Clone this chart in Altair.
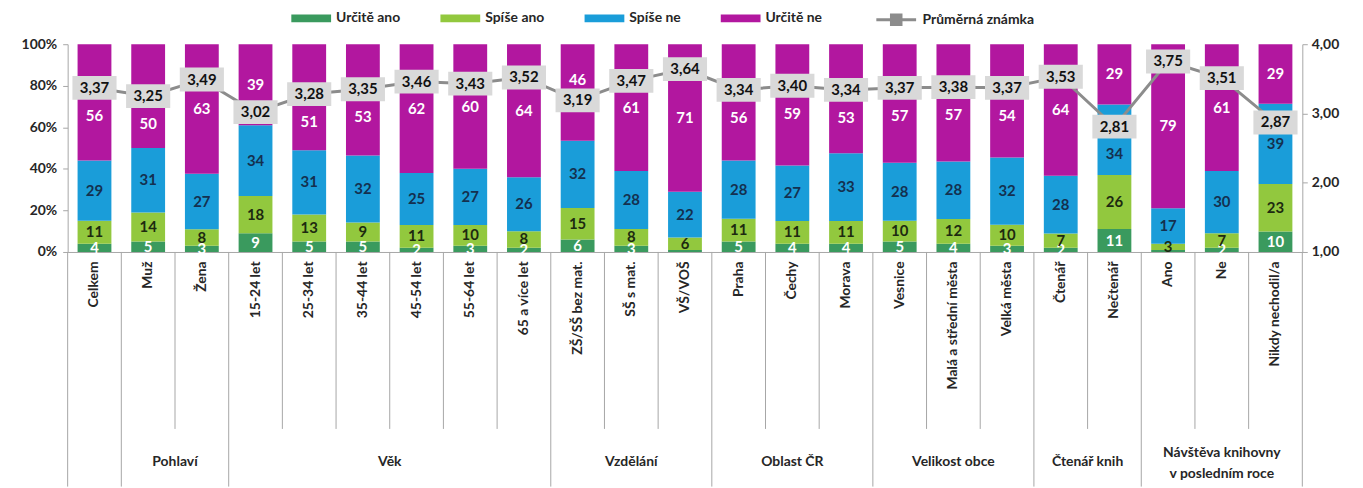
import altair as alt
import pandas as pd

categories = ["Celkem", "Muž", "Žena", "15-24 let", "25-34 let", "35-44 let", "45-54 let",
              "55-64 let", "65 a více let", "ZŠ/SŠ bez mat.", "SŠ s mat.", "VŠ/VOŠ", "Praha",
              "Čechy", "Morava", "Vesnice", "Malá a střední města", "Velká města", "Čtenář",
              "Nečtenář", "Ano", "Ne", "Nikdy nechodil/a"]
urcite_ano = [4, 5, 3, 9, 5, 5, 2, 3, 2, 6, 3, 1, 5, 4, 4, 5, 4, 3, 2, 11, 1, 2, 10]
spise_ano = [11, 14, 8, 18, 13, 9, 11, 10, 8, 15, 8, 6, 11, 11, 11, 10, 12, 10, 7, 26, 3, 7, 23]
spise_ne = [29, 31, 27, 34, 31, 32, 25, 27, 26, 32, 28, 22, 28, 27, 33, 28, 28, 32, 28, 34, 17, 30, 39]
urcite_ne = [56, 50, 63, 39, 51, 53, 62, 60, 64, 46, 61, 71, 56, 59, 53, 57, 57, 54, 64, 29, 79, 61, 29]
prumer = [3.37, 3.25, 3.49, 3.02, 3.28, 3.35, 3.46, 3.43, 3.52, 3.19, 3.47, 3.64, 3.34, 3.40,
          3.34, 3.37, 3.38, 3.37, 3.53, 2.81, 3.75, 3.51, 2.87]

series_names = ["Určitě ano", "Spíše ano", "Spíše ne", "Určitě ne"]
series_colors = ["#3a9a5e", "#92c83e", "#1a9dd9", "#b2179f"]
label_colors = ["#ffffff", "#1d2a10", "#14304f", "#ffffff"]
avg_name = "Průměrná známka"

group_names = ["", "Pohlaví", "Věk", "Vzdělání", "Oblast ČR", "Velikost obce", "Čtenář knih",
               "Návštěva knihovny\nv posledním roce"]
group_sizes = [1, 2, 6, 3, 3, 3, 2, 3]

FONT = "Lato"
H = 209
W = 1242

rows = []
for i, c in enumerate(categories):
    for k, vals in enumerate([urcite_ano, spise_ano, spise_ne, urcite_ne]):
        rows.append(dict(cat=c, series=series_names[k], ord=k, value=vals[i], avg=prumer[i]))
df = pd.DataFrame(rows)
avg_df = pd.DataFrame(dict(cat=categories, avg=prumer, name=avg_name))

starts = []
s = 0
for n in group_sizes:
    starts.append(s)
    s += n
bound_df = pd.DataFrame(dict(cat=categories,
                             kind=["full" if i in starts else "short" for i in range(len(categories))]))
end_df = pd.DataFrame(dict(cat=[categories[-1]]))

grp_rows = []
for name, st, n in zip(group_names, starts, group_sizes):
    if not name:
        continue
    grp_rows.append(dict(cat=categories[st + n // 2], label=name, odd=(n % 2 == 1),
                         multi=("\n" in name)))
grp_df = pd.DataFrame(grp_rows)

x_scale = alt.Scale(domain=categories, paddingInner=0, paddingOuter=0)
x_axis = alt.Axis(labelAngle=-90, labelFont=FONT, labelFontSize=14, labelFontWeight="bold",
                  labelColor="#262626", labelPadding=9, ticks=False, domainColor="#a6a6a6",
                  labelLimit=300, grid=False)


def X(**kw):
    return alt.X("cat:N", sort=categories, scale=x_scale, axis=x_axis, title=None, **kw)


y_scale = alt.Scale(domain=[0, 1])
y_axis_left = alt.Axis(values=[0, 0.2, 0.4, 0.6, 0.8, 1], format="%", labelFont=FONT,
                       labelFontSize=14, labelFontWeight="bold", labelColor="#262626",
                       tickSize=5, tickColor="#a6a6a6", domainColor="#a6a6a6", grid=False,
                       labelPadding=6, orient="left")
y_axis_right = alt.Axis(values=[1, 2, 3, 4], labelExpr="replace(format(datum.value, '.2f'), '.', ',')",
                        labelFont=FONT, labelFontSize=14, labelFontWeight="bold",
                        labelColor="#262626", tickSize=5, tickColor="#a6a6a6",
                        domainColor="#a6a6a6", grid=False, labelPadding=4, orient="right")

bars = alt.Chart(df).mark_bar(width=alt.RelativeBandSize(0.63)).encode(
    x=X(),
    y=alt.Y("value:Q", stack="normalize", scale=y_scale, axis=y_axis_left, title=None),
    color=alt.Color("series:N", scale=alt.Scale(domain=series_names, range=series_colors), title=None,
                    legend=alt.Legend(orient="none", legendX=237, legendY=-34, direction="horizontal",
                                      symbolType="M-2.5,-0.5L2.5,-0.5L2.5,0.5L-2.5,0.5Z",
                                      symbolSize=256, symbolStrokeWidth=0, labelFont=FONT,
                                      labelFontSize=14, labelFontWeight="bold", labelColor="#262626",
                                      labelOffset=17, columnPadding=40)),
    order=alt.Order("ord:Q"),
)

labels = alt.Chart(df).transform_stack(
    stack="value", groupby=["cat"], sort=[alt.SortField("ord")], as_=["v0", "v1"], offset="normalize"
).transform_calculate(
    mid="(datum.v0 + datum.v1) / 2", box="(datum.avg - 1) / 3"
).transform_calculate(
    ypos="datum.ord == 3 && abs(datum.mid - datum.box) < 0.1 ? "
         "((1 - datum.box) > (datum.box - datum.v0) + 0.01 ? datum.box + 0.10 : datum.box - 0.135) "
         ": (datum.ord == 2 && abs(datum.mid - datum.box) < 0.08 ? datum.box - 0.13 : datum.mid)"
).transform_filter("datum.value >= 2").mark_text(
    font=FONT, fontSize=15, fontWeight="bold"
).encode(
    x=X(),
    y=alt.Y("ypos:Q", scale=y_scale, axis=y_axis_left, title=None),
    text=alt.Text("value:Q", format="d"),
    fill=alt.Fill("series:N", scale=alt.Scale(domain=series_names, range=label_colors), legend=None),
)

rules_full = alt.Chart(bound_df).transform_filter("datum.kind == 'full'").mark_rule(
    color="#a6a6a6", strokeWidth=1
).encode(x=X(bandPosition=0), y=alt.value(H), y2=alt.value(H + 236))
rules_short = alt.Chart(bound_df).transform_filter("datum.kind == 'short'").mark_rule(
    color="#a6a6a6", strokeWidth=1
).encode(x=X(bandPosition=0), y=alt.value(H), y2=alt.value(H + 178))
rule_end = alt.Chart(end_df).mark_rule(color="#a6a6a6", strokeWidth=1).encode(
    x=X(bandPosition=1), y=alt.value(H), y2=alt.value(H + 236))

grp_text = dict(font=FONT, fontSize=14, fontWeight="bold", color="#262626", lineBreak="\n",
                lineHeight=21, baseline="middle")
grp_odd = alt.Chart(grp_df).transform_filter("datum.odd && !datum.multi").mark_text(**grp_text).encode(
    x=X(bandPosition=0.5), y=alt.value(H + 211), text="label:N")
grp_even = alt.Chart(grp_df).transform_filter("!datum.odd").mark_text(**grp_text).encode(
    x=X(bandPosition=0), y=alt.value(H + 211), text="label:N")
grp_multi = alt.Chart(grp_df).transform_filter("datum.multi").mark_text(**grp_text).encode(
    x=X(bandPosition=0.5), y=alt.value(H + 202), text="label:N")

y_right = alt.Y("avg:Q", scale=alt.Scale(domain=[1, 4]), axis=y_axis_right, title=None)

line = alt.Chart(avg_df).mark_line(strokeWidth=3).encode(
    x=X(), y=y_right,
    stroke=alt.Stroke("name:N", scale=alt.Scale(range=["#8c8c8c"]), title=None,
                      legend=alt.Legend(orient="none", legendX=824, legendY=-34,
                                        symbolType="M-2.5,0L2.5,0M-0.6,-0.6L0.6,-0.6L0.6,0.6L-0.6,0.6Z",
                                        symbolSize=256, symbolStrokeWidth=3,
                                        symbolFillColor="#8c8c8c", labelFont=FONT,
                                        labelFontSize=14, labelFontWeight="bold",
                                        labelColor="#262626", labelOffset=17)),
)
boxes = alt.Chart(avg_df).mark_point(
    shape="M-1.85,-1L1.85,-1L1.85,1L-1.85,1Z", size=576, filled=True, fill="#d9d9d9",
    opacity=1, strokeWidth=0
).encode(x=X(), y=y_right)
box_text = alt.Chart(avg_df).transform_calculate(
    lbl="replace(format(datum.avg, '.2f'), '.', ',')"
).mark_text(font=FONT, fontSize=15, fontWeight="bold", color="#111111").encode(
    x=X(), y=y_right, text="lbl:N")

left = alt.layer(bars, labels, rules_full, rules_short, rule_end, grp_odd, grp_even, grp_multi)
right = alt.layer(line, boxes, box_text)

chart = alt.layer(left, right).resolve_scale(y="independent").properties(
    width=W, height=H,
    autosize=alt.AutoSizeParams(type="none"),
    padding={"left": 60, "top": 35, "right": 53, "bottom": 236},
).configure_view(stroke="transparent")

chart.save("out.html", embed_options={"renderer": "svg", "actions": False})
